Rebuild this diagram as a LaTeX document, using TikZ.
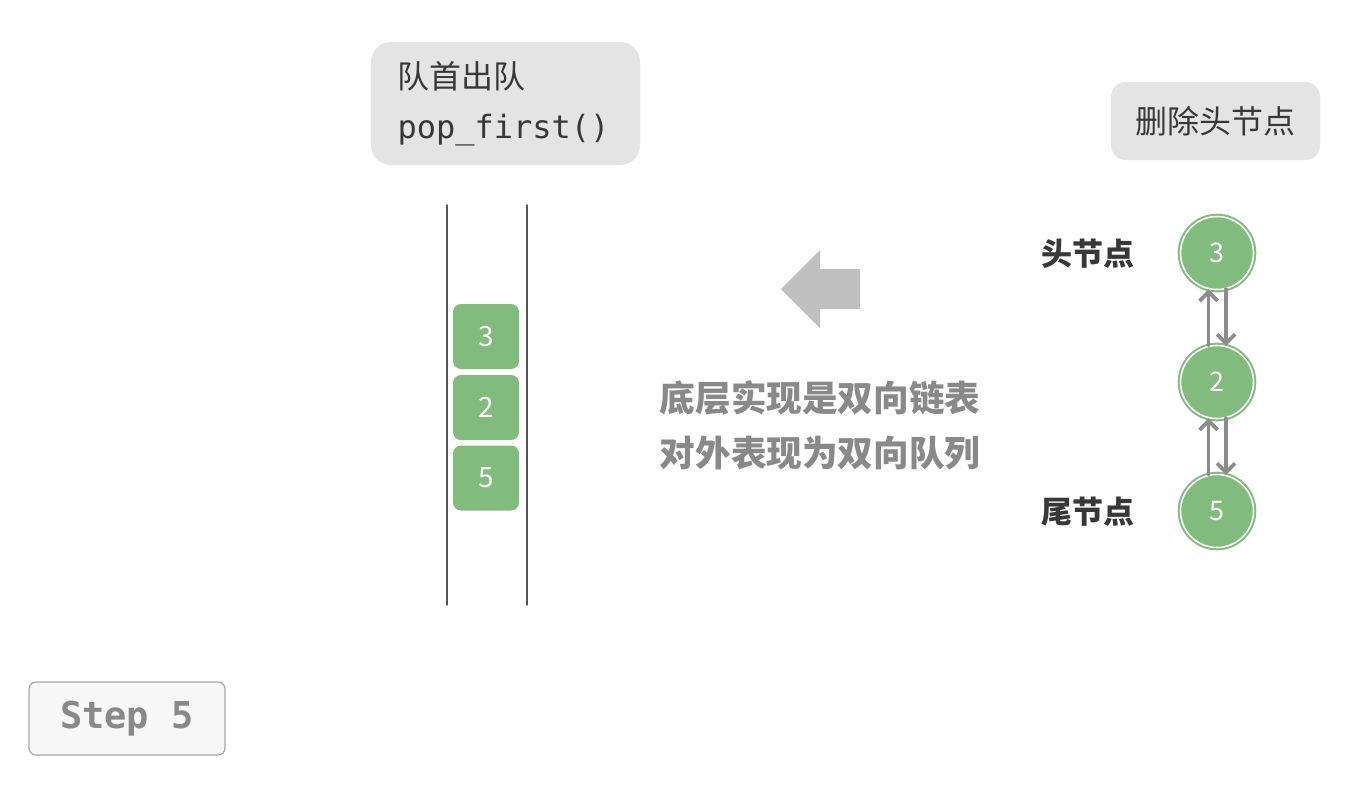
\documentclass[tikz,border=0pt]{standalone}
\usepackage{fontspec}
\setmainfont{Noto Sans CJK SC}
\setmonofont{DejaVu Sans Mono}
\usetikzlibrary{arrows.meta}
\definecolor{qgreen}{HTML}{82BB7E}
\definecolor{boxgray}{HTML}{E4E4E4}
\definecolor{darktext}{HTML}{383838}
\definecolor{softtext}{HTML}{898989}
\definecolor{bigarrow}{HTML}{BFBFBF}
\definecolor{linkgray}{HTML}{8C8C8C}
\definecolor{wallgray}{HTML}{555555}

\begin{document}
\begin{tikzpicture}[line cap=round,line join=round,x=0.5pt,y=-0.5pt,
  labelbox/.style={fill=boxgray,inner sep=0pt,text=darktext},
  elem/.style={fill=qgreen,rounded corners=4pt,minimum width=33pt,minimum height=32.5pt,inner sep=0pt,text=white,font=\fontsize{14}{14}\selectfont},
  listnode/.style={circle,fill=qgreen,draw=white,line width=0.8pt,minimum size=36.5pt,inner sep=0pt,text=white,font=\fontsize{13.5}{13.5}\selectfont,preaction={draw=qgreen,line width=2.8pt}},
  sidelabel/.style={text=darktext,font=\bfseries\fontsize{15.5}{15.5}\selectfont},
  link/.style={draw=linkgray,line width=1.8pt,-{Straight Barb[length=4.5pt,width=9pt]}}]
\fill[white] (0,0) rectangle (1364,784);
\useasboundingbox (0,0) rectangle (1364,784);

\node[labelbox,rounded corners=10pt,minimum width=134.5pt,minimum height=61.5pt,text width=108pt,align=left,font=\fontsize{16}{25}\selectfont] (popbox) at (505.5,103.5) {队首出队\\\texttt{pop\_first()}};
\node[labelbox,rounded corners=7.5pt,minimum width=104.5pt,minimum height=39pt,font=\fontsize{16}{16}\selectfont] (delbox) at (1215.5,121) {删除头节点};

\draw[wallgray,line width=0.7pt] (447,205) -- (447,605);
\draw[wallgray,line width=0.7pt] (527,205) -- (527,605);

\node[elem] (q3) at (486,336.5) {3};
\node[elem] (q2) at (486,407.5) {2};
\node[elem] (q5) at (486,478) {5};

\fill[bigarrow] (781,289) -- (820,250) -- (820,269) -- (860,269) -- (860,309) -- (820,309) -- (820,328) -- cycle;

\node[text=softtext,align=center,font=\bfseries\fontsize{17.8}{27.5}\selectfont] (note) at (820,425) {底层实现是双向链表\\对外表现为双向队列};

\node[listnode] (n3) at (1217,253) {3};
\node[listnode] (n2) at (1217,382) {2};
\node[listnode] (n5) at (1217,511) {5};
\node[sidelabel] (headlbl) at (1088,254) {头节点};
\node[sidelabel] (taillbl) at (1088,512) {尾节点};

\draw[link] (n2.103) -- (n3.257);
\draw[link] (n3.-76) -- (n2.76);
\draw[link] (n5.103) -- (n2.257);
\draw[link] (n2.-76) -- (n5.76);

\node[fill=white!97!black,draw=black!35,rounded corners=3.5pt,line width=0.6pt,minimum width=98pt,minimum height=36.5pt,inner sep=0pt,text=softtext,font=\ttfamily\bfseries\fontsize{18.5}{18.5}\selectfont] (stepbox) at (127,718.5) {Step 5};
\end{tikzpicture}
\end{document}
